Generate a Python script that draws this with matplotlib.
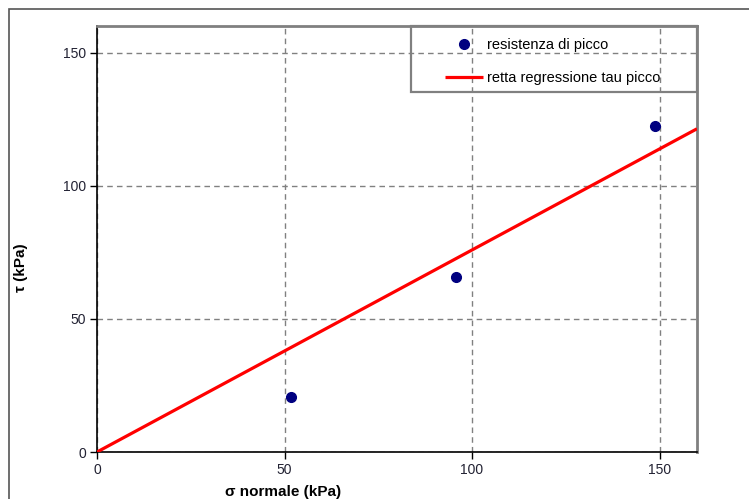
import matplotlib
matplotlib.use("Agg")
import matplotlib.pyplot as plt
from matplotlib.patches import Rectangle

# data
sigma = [51.6, 95.7, 148.7]          # normal stress (kPa)
tau = [20.7, 65.8, 122.6]            # peak shear strength (kPa)
fit_x = [0, 160]                     # regression line through origin
fit_y = [0, 121.4]
ticks = [0, 50, 100, 150]

plt.rcParams.update({"font.family": ["Liberation Sans", "DejaVu Sans"], "font.size": 10})

W, H = 749, 499
fig = plt.figure(figsize=(W / 100, H / 100), dpi=100)
# plot area in pixels: left 97, right 697, top 26, bottom 452
ax = fig.add_axes([97 / W, 1 - 452 / H, 600 / W, 426 / H])

ax.set_xlim(0, 160)
ax.set_ylim(0, 160)
ax.set_xticks(ticks)
ax.set_yticks(ticks)
ax.grid(True, color="#808080", ls=(0, (4, 3)), lw=1.0)
ax.set_axisbelow(True)

ax.plot(fit_x, fit_y, color="#FF0000", lw=2.3, solid_capstyle="butt", zorder=3,
        label="retta regressione tau picco")
ax.plot(sigma, tau, ls="none", marker="o", ms=7, color="#000080", zorder=4,
        label="resistenza di picco")

for s in ("left", "bottom"):
    ax.spines[s].set_color("black")
    ax.spines[s].set_linewidth(1.2)
for s in ("top", "right"):
    ax.spines[s].set_color("#808080")
    ax.spines[s].set_linewidth(2.0)
ax.tick_params(direction="out", length=5, width=1.0, colors="black",
               labelcolor="#222233", labelsize=10, pad=3)

# legend frame drawn separately to match box size (transparent, grid shows through)
ax.add_patch(Rectangle((314 / 600, 1 - 66 / 426), 286 / 600, 66 / 426,
                       transform=ax.transAxes, facecolor="none",
                       edgecolor="#808080", lw=1.6, zorder=5, clip_on=False))
h, l = ax.get_legend_handles_labels()
leg = ax.legend([h[1], h[0]], [l[1], l[0]], loc="upper left",
                bbox_to_anchor=(348 / 600, 1 - 12 / 426), frameon=False,
                borderpad=0, borderaxespad=0, handlelength=2.6,
                handletextpad=0.3, labelspacing=1.3, fontsize=10.5)
leg.set_zorder(6)

ax.set_ylabel("τ (kPa)", fontweight="bold", fontsize=11)
ax.yaxis.set_label_coords((28 - 97) / 600, (452 - 268) / 426)
fig.text(283 / W, 1 - 492 / H, "σ normale (kPa)", ha="center", va="center",
         fontweight="bold", fontsize=11)

# outer chart border (cropped at right and bottom)
fig.add_artist(Rectangle((9 / W, -0.1), 1.2, 1 - 9 / H + 0.1, transform=fig.transFigure,
                         facecolor="none", edgecolor="#555555", lw=1.2))

fig.savefig("out.png", dpi=100)
